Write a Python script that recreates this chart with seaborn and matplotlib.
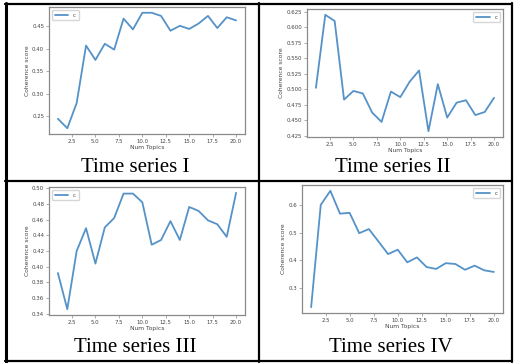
import matplotlib
matplotlib.use("Agg")
import matplotlib.pyplot as plt
from matplotlib.lines import Line2D
from matplotlib.ticker import MultipleLocator
import seaborn as sns
import pandas as pd

num_topics = list(range(1, 21))
series_I = [0.244, 0.223, 0.279, 0.407, 0.375, 0.411, 0.398, 0.467, 0.443, 0.480,
            0.480, 0.473, 0.440, 0.451, 0.444, 0.456, 0.473, 0.446, 0.470, 0.463]
series_II = [0.502, 0.620, 0.610, 0.483, 0.497, 0.493, 0.462, 0.447, 0.496, 0.487,
             0.512, 0.530, 0.432, 0.508, 0.454, 0.478, 0.482, 0.458, 0.463, 0.486]
series_III = [0.392, 0.346, 0.420, 0.449, 0.404, 0.450, 0.462, 0.493, 0.493, 0.482,
              0.428, 0.434, 0.458, 0.434, 0.476, 0.471, 0.459, 0.454, 0.438, 0.494]
series_IV = [0.230, 0.602, 0.653, 0.570, 0.573, 0.499, 0.514, 0.469, 0.423, 0.439,
             0.393, 0.411, 0.376, 0.369, 0.390, 0.387, 0.366, 0.381, 0.364, 0.358]
captions = ["Time series I", "Time series II", "Time series III", "Time series IV"]
legend_label = "c"
x_label = "Num Topics"
y_label = "Coherence score"

sns.set_style("ticks")

W, H = 515, 363
fig = plt.figure(figsize=(W / 100, H / 100), dpi=100)

def px_axes(l, r, t, b):
    return fig.add_axes([l / W, 1 - b / H, (r - l) / W, (b - t) / H])

panels = [
    (series_I, (49, 245, 7, 134), 0.05, "upper left", (135, 168)),
    (series_II, (307, 503, 9, 137), 0.025, "upper right", (393, 168)),
    (series_III, (49, 245, 187, 315), 0.02, "upper left", (135, 347)),
    (series_IV, (302, 503, 185, 313), 0.1, "upper right", (391, 348)),
]

line_color = "#5592c8"
spine_color = "#8a8a8a"
text_color = "#444444"

for (vals, box, ystep, loc, cap), caption in zip(panels, captions):
    ax = px_axes(*box)
    df = pd.DataFrame({"x": num_topics, "y": vals})
    sns.lineplot(data=df, x="x", y="y", ax=ax, color=line_color, linewidth=1.3, label=legend_label)
    ax.xaxis.set_major_locator(MultipleLocator(2.5))
    ax.yaxis.set_major_locator(MultipleLocator(ystep))
    ax.xaxis.set_major_formatter(matplotlib.ticker.FormatStrFormatter("%.1f"))
    if ystep == 0.025:
        ax.yaxis.set_major_formatter(matplotlib.ticker.FormatStrFormatter("%.3f"))
    elif ystep == 0.1:
        ax.yaxis.set_major_formatter(matplotlib.ticker.FormatStrFormatter("%.1f"))
    else:
        ax.yaxis.set_major_formatter(matplotlib.ticker.FormatStrFormatter("%.2f"))
    for s in ax.spines.values():
        s.set_visible(True)
        s.set_color(spine_color)
        s.set_linewidth(0.9)
    ax.tick_params(labelsize=3.9, length=2, width=0.5, pad=1.5, colors=spine_color, labelcolor=text_color)
    ax.set_xlabel(x_label, fontsize=4.3, color=text_color, labelpad=1)
    ax.set_ylabel(y_label, fontsize=4.3, color=text_color, labelpad=1.5)
    leg = ax.legend(loc=loc, fontsize=4, frameon=True, handlelength=2.5, borderpad=0.5)
    leg.get_frame().set_edgecolor("#cccccc")
    for t in leg.get_texts():
        t.set_color(text_color)
    fig.text(cap[0] / W, 1 - cap[1] / H, caption, fontsize=15, family="Liberation Serif",
             ha="center", va="center", color="black")

def hline(y, x0, x1, lw):
    fig.add_artist(Line2D([x0 / W, x1 / W], [1 - y / H, 1 - y / H], color="black", lw=lw, transform=fig.transFigure))

def vline(x, y0, y1, lw):
    fig.add_artist(Line2D([x / W, x / W], [1 - y0 / H, 1 - y1 / H], color="black", lw=lw, transform=fig.transFigure))

hline(3.5, 5, 512, 1.6)
hline(181, 5, 512, 1.6)
hline(361, 5, 512, 1.6)
vline(6, 3, 362, 2.2)
vline(259, 3, 362, 1.6)
vline(512, 3, 362, 1.6)

fig.savefig("out.png", dpi=100)
